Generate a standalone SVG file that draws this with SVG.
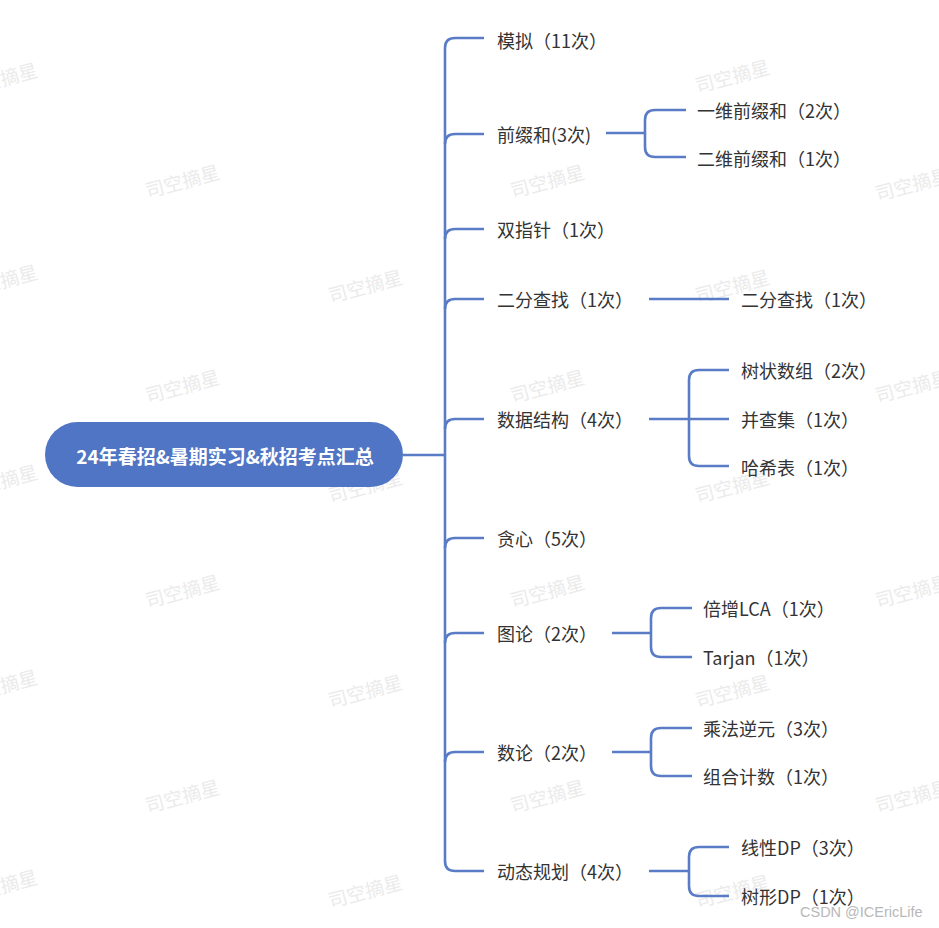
<svg xmlns="http://www.w3.org/2000/svg" width="939" height="928" viewBox="0 0 939 928">
<style>
.wm{font-family:"Noto Sans CJK SC","Noto Sans",sans-serif;font-size:19px;fill:#ebebeb;text-anchor:middle;dominant-baseline:central}
.lbl{font-family:"Noto Sans CJK SC","Noto Sans",sans-serif;font-size:18px;fill:#333333;dominant-baseline:central}
.root{font-family:"Noto Sans CJK SC","Noto Sans",sans-serif;font-size:19px;font-weight:bold;fill:#ffffff;text-anchor:middle;dominant-baseline:central}
.ln{fill:none;stroke:#5a7cc6;stroke-width:2.6;stroke-linecap:butt}
.cs{font-family:"Liberation Sans",Arial,sans-serif;font-size:14.5px;fill:#b8b8b8;dominant-baseline:central}
</style>
<rect width="939" height="928" fill="#ffffff"/>
<g id="watermarks">
<text class="wm" transform="translate(0,78) rotate(-15)">司空摘星</text>
<text class="wm" transform="translate(732,75) rotate(-15)">司空摘星</text>
<text class="wm" transform="translate(182,180) rotate(-15)">司空摘星</text>
<text class="wm" transform="translate(547,180) rotate(-15)">司空摘星</text>
<text class="wm" transform="translate(912,183) rotate(-15)">司空摘星</text>
<text class="wm" transform="translate(0,280) rotate(-15)">司空摘星</text>
<text class="wm" transform="translate(365,285) rotate(-15)">司空摘星</text>
<text class="wm" transform="translate(732,285) rotate(-15)">司空摘星</text>
<text class="wm" transform="translate(182,385) rotate(-15)">司空摘星</text>
<text class="wm" transform="translate(547,385) rotate(-15)">司空摘星</text>
<text class="wm" transform="translate(912,385) rotate(-15)">司空摘星</text>
<text class="wm" transform="translate(0,480) rotate(-15)">司空摘星</text>
<text class="wm" transform="translate(365,485) rotate(-15)">司空摘星</text>
<text class="wm" transform="translate(732,485) rotate(-15)">司空摘星</text>
<text class="wm" transform="translate(182,590) rotate(-15)">司空摘星</text>
<text class="wm" transform="translate(547,590) rotate(-15)">司空摘星</text>
<text class="wm" transform="translate(912,590) rotate(-15)">司空摘星</text>
<text class="wm" transform="translate(0,685) rotate(-15)">司空摘星</text>
<text class="wm" transform="translate(365,690) rotate(-15)">司空摘星</text>
<text class="wm" transform="translate(732,690) rotate(-15)">司空摘星</text>
<text class="wm" transform="translate(182,795) rotate(-15)">司空摘星</text>
<text class="wm" transform="translate(547,795) rotate(-15)">司空摘星</text>
<text class="wm" transform="translate(912,795) rotate(-15)">司空摘星</text>
<text class="wm" transform="translate(0,885) rotate(-15)">司空摘星</text>
<text class="wm" transform="translate(365,890) rotate(-15)">司空摘星</text>
<text class="wm" transform="translate(732,890) rotate(-15)">司空摘星</text>
</g>
<g id="connectors">
<path class="ln" d="M403,455 H445"/>
<path class="ln" d="M445,861 V48 Q445,38 455,38 H484"/>
<path class="ln" d="M445,861 Q445,871 455,871 H484"/>
<path class="ln" d="M445,144 Q445,134 455,134 H484"/>
<path class="ln" d="M445,239 Q445,229 455,229 H484"/>
<path class="ln" d="M445,309 Q445,299 455,299 H484"/>
<path class="ln" d="M445,429 Q445,419 455,419 H484"/>
<path class="ln" d="M445,548 Q445,538 455,538 H484"/>
<path class="ln" d="M445,643 Q445,633 455,633 H484"/>
<path class="ln" d="M445,762 Q445,752 455,752 H484"/>
<path class="ln" d="M606,133 H645"/>
<path class="ln" d="M686,110 H655 Q645,110 645,120 V147 Q645,157 655,157 H686"/>
<path class="ln" d="M649,299 H729"/>
<path class="ln" d="M649,419 H729"/>
<path class="ln" d="M729,370 H699 Q689,370 689,380 V456 Q689,466 699,466 H729"/>
<path class="ln" d="M612,633 H651"/>
<path class="ln" d="M692,608 H661 Q651,608 651,618 V647 Q651,657 661,657 H692"/>
<path class="ln" d="M612,752 H651"/>
<path class="ln" d="M692,728 H661 Q651,728 651,738 V766 Q651,776 661,776 H692"/>
<path class="ln" d="M649,871 H689"/>
<path class="ln" d="M729,847 H699 Q689,847 689,857 V886 Q689,896 699,896 H729"/>
</g>
<g id="root">
<rect x="45" y="422" width="358" height="65" rx="32.5" fill="#5075c4"/>
<text class="root" x="225" y="455">24年春招&amp;暑期实习&amp;秋招考点汇总</text>
</g>
<g id="n-moni"><text class="lbl" x="497" y="40">模拟（11次）</text></g>
<g id="n-qzh"><text class="lbl" x="497" y="134">前缀和(3次)</text></g>
<g id="n-qzh1"><text class="lbl" x="697" y="110">一维前缀和（2次）</text></g>
<g id="n-qzh2"><text class="lbl" x="697" y="158">二维前缀和（1次）</text></g>
<g id="n-szz"><text class="lbl" x="497" y="229">双指针（1次）</text></g>
<g id="n-efcz"><text class="lbl" x="497" y="299">二分查找（1次）</text></g>
<g id="n-efcz1"><text class="lbl" x="741" y="299">二分查找（1次）</text></g>
<g id="n-sjjg"><text class="lbl" x="497" y="419">数据结构（4次）</text></g>
<g id="n-szsz"><text class="lbl" x="741" y="370">树状数组（2次）</text></g>
<g id="n-bcj"><text class="lbl" x="741" y="419">并查集（1次）</text></g>
<g id="n-hxb"><text class="lbl" x="741" y="467">哈希表（1次）</text></g>
<g id="n-tx"><text class="lbl" x="497" y="538">贪心（5次）</text></g>
<g id="n-tl"><text class="lbl" x="497" y="633">图论（2次）</text></g>
<g id="n-lca"><text class="lbl" x="703" y="608">倍增LCA（1次）</text></g>
<g id="n-tarjan"><text class="lbl" x="703" y="657">Tarjan（1次）</text></g>
<g id="n-sl"><text class="lbl" x="497" y="752">数论（2次）</text></g>
<g id="n-cfny"><text class="lbl" x="703" y="728">乘法逆元（3次）</text></g>
<g id="n-zhjs"><text class="lbl" x="703" y="776">组合计数（1次）</text></g>
<g id="n-dtgh"><text class="lbl" x="497" y="871">动态规划（4次）</text></g>
<g id="n-xxdp"><text class="lbl" x="741" y="847">线性DP（3次）</text></g>
<g id="n-sxdp"><text class="lbl" x="741" y="896">树形DP（1次）</text></g>
<text class="cs" x="800" y="912">CSDN @ICEricLife</text>
</svg>
